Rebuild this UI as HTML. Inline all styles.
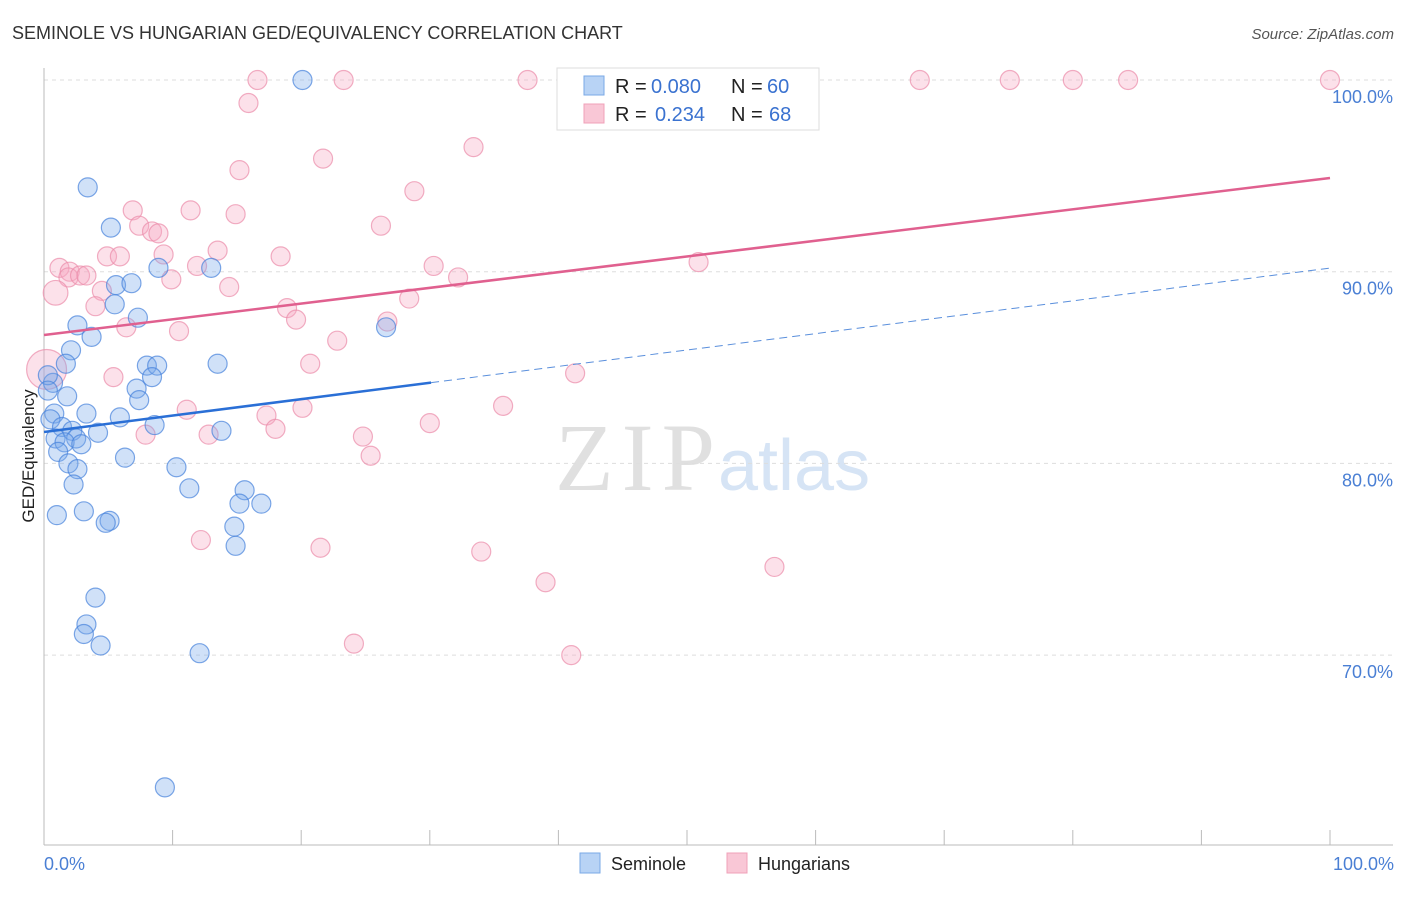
<!DOCTYPE html>
<html><head><meta charset="utf-8">
<style>
body{margin:0;background:#fff;font-family:"Liberation Sans",sans-serif;}
</style></head>
<body>
<svg id="chart" width="1406" height="892" viewBox="0 0 1406 892" xmlns="http://www.w3.org/2000/svg" font-family="Liberation Sans, sans-serif">
<text x="12" y="39" font-size="18" fill="#333">SEMINOLE VS HUNGARIAN GED/EQUIVALENCY CORRELATION CHART</text>
<text x="1394" y="39" font-size="15" fill="#555" font-style="italic" text-anchor="end">Source: ZipAtlas.com</text>
<text x="555" y="490" font-size="96" fill="#e0e0e0" style="font-family:'Liberation Serif',serif" textLength="160">ZIP</text>
<text x="718" y="490" font-size="72" fill="#d6e4f5">atlas</text>
<g id="grid"></g>
<g id="axes"></g>
<g id="points"></g>
<g id="trends"></g>
<text transform="translate(34,456) rotate(-90)" font-size="17" fill="#222" text-anchor="middle">GED/Equivalency</text>
<text x="44" y="870" font-size="18" fill="#4a7fd4">0.0%</text>
<text x="1394" y="870" font-size="18" fill="#4a7fd4" text-anchor="end">100.0%</text>
<g>
<rect x="557" y="68" width="262" height="62" fill="#fff" stroke="#ddd"/>
<rect x="584" y="76" width="20" height="19" fill="#b8d3f5" stroke="#7aa8e6"/>
<rect x="584" y="104" width="20" height="19" fill="#f9c7d6" stroke="#f0a0b8"/>
<g font-size="20">
<text x="615" y="93" fill="#222">R =</text><text x="651" y="93" fill="#3a72d0">0.080</text>
<text x="731" y="93" fill="#222">N =</text><text x="767" y="93" fill="#3a72d0">60</text>
</g>
<g font-size="20">
<text x="615" y="121" fill="#222">R =</text><text x="655" y="121" fill="#3a72d0">0.234</text>
<text x="731" y="121" fill="#222">N =</text><text x="769" y="121" fill="#3a72d0">68</text>
</g>
</g>
<g>
<rect x="580" y="853" width="20" height="20" fill="#b8d3f5" stroke="#7aa8e6"/>
<text x="611" y="870" font-size="18" fill="#222">Seminole</text>
<rect x="727" y="853" width="20" height="20" fill="#f9c7d6" stroke="#f0a0b8"/>
<text x="758" y="870" font-size="18" fill="#222">Hungarians</text>
</g>
</svg>
<script>
const yTicks=[100,90,80,70];
const yTickLabels=["100.0%","90.0%","80.0%","70.0%"];
const xTicks=[0,10,20,30,40,50,60,70,80,90,100];
const seminoleX=[20.1,3.4,5.2,8.9,13.0,5.6,6.8,5.5,7.3,2.6,3.7,2.1,1.7,8.0,8.8,13.5,8.4,0.7,0.3,0.3,7.2,7.4,1.8,0.8,3.3,5.9,0.5,1.4,8.6,13.8,0.9,2.2,2.5,4.2,1.6,2.9,1.1,6.3,1.9,2.6,10.3,2.3,11.3,15.6,15.2,16.9,1.0,3.1,5.1,4.8,14.8,14.9,26.6,4.0,3.3,3.1,4.4,12.1,9.4];
const seminoleY=[100,94.4,92.3,90.2,90.2,89.3,89.4,88.3,87.6,87.2,86.6,85.9,85.2,85.1,85.1,85.2,84.5,84.2,84.6,83.8,83.9,83.3,83.5,82.6,82.6,82.4,82.3,81.9,82.0,81.7,81.3,81.7,81.3,81.6,81.1,81.0,80.6,80.3,80.0,79.7,79.8,78.9,78.7,78.6,77.9,77.9,77.3,77.5,77.0,76.9,76.7,75.7,87.1,73.0,71.6,71.1,70.5,70.1,63.1];
const hungX=[16.6,23.3,37.6,53.8,68.1,75.1,80.0,84.3,100,15.9,21.7,33.4,15.2,28.8,6.9,11.4,14.9,7.4,8.4,8.9,26.2,4.9,5.9,9.3,13.5,18.4,1.2,2.0,1.9,2.8,3.3,11.9,9.9,30.3,32.2,50.9,0.9,4.5,14.4,4.0,28.4,18.9,19.6,6.4,10.5,22.8,26.7,20.7,41.3,5.4,0.2,11.1,17.3,20.1,35.7,30.0,18.0,7.9,12.8,24.8,25.4,12.2,21.5,34.0,39.0,56.8,24.1,41.0];
const hungY=[100,100,100,100,100,100,100,100,100,98.8,95.9,96.5,95.3,94.2,93.2,93.2,93.0,92.4,92.1,92.0,92.4,90.8,90.8,90.9,91.1,90.8,90.2,90.0,89.7,89.8,89.8,90.3,89.6,90.3,89.7,90.5,88.9,89.0,89.2,88.2,88.6,88.1,87.5,87.1,86.9,86.4,87.4,85.2,84.7,84.5,84.9,82.8,82.5,82.9,83.0,82.1,81.8,81.5,81.5,81.4,80.4,76.0,75.6,75.4,73.8,74.6,70.6,70.0];
const hungWeight=[1,1,1,1,1,1,1,1,1,1,1,1,1,1,1,1,1,1,1,1,1,1,1,1,1,1,1,1,1,1,1,1,1,1,1,1,1.3,1,1,1,1,1,1,1,1,1,1,1,1,1,2.1,1,1,1,1,1,1,1,1,1,1,1,1,1,1,1,1,1];
const seminoleTrend=[81.64,90.19];
const hungTrend=[86.70,94.89];
const seminoleSolidEnd=30.1;

const NS="http://www.w3.org/2000/svg";
const X0=44,X1=1330,Y100=80,PX10=19.17;
function sx(v){return X0+(X1-X0)*v/100;}
function sy(v){return Y100+(100-v)*PX10;}
function mk(tag,attrs,parent){const e=document.createElementNS(NS,tag);for(const k in attrs)e.setAttribute(k,attrs[k]);parent.appendChild(e);return e;}
const grid=document.getElementById('grid'),axes=document.getElementById('axes'),pts=document.getElementById('points'),tr=document.getElementById('trends');
yTicks.forEach((t,i)=>{
 const l=mk('line',{x1:44,x2:1393,y1:sy(t),y2:sy(t),stroke:'#ddd','stroke-dasharray':'4,4'},grid);
 
 
 const tx=mk('text',{x:1393,y:sy(t)+23,'font-size':18,fill:'#4a7fd4','text-anchor':'end'},grid);
 tx.textContent=yTickLabels[i];
 
 
});
const ya=mk('line',{x1:44,x2:44,y1:68,y2:845,stroke:'#bbb'},axes);


const xa=mk('line',{x1:44,x2:1393,y1:845,y2:845,stroke:'#bbb'},axes);


xTicks.forEach(t=>{
 const l=mk('line',{x1:sx(t),x2:sx(t),y1:830,y2:845,stroke:'#bbb'},axes);
 
 
});
hungX.forEach((v,i)=>{
 const c=mk('circle',{cx:sx(v),cy:sy(hungY[i]),r:9.5*hungWeight[i],fill:'rgba(246,170,195,0.35)',stroke:'rgba(235,140,170,0.7)','stroke-width':1.2},pts);
 
 
});
seminoleX.forEach((v,i)=>{
 const c=mk('circle',{cx:sx(v),cy:sy(seminoleY[i]),r:9.5,fill:'rgba(120,170,235,0.35)',stroke:'rgba(70,130,220,0.7)','stroke-width':1.2},pts);
 
 
});
function ty(tr2,x){return tr2[0]+(tr2[1]-tr2[0])*x/100;}
const pl=mk('line',{x1:sx(0),y1:sy(ty(hungTrend,0)),x2:sx(100),y2:sy(ty(hungTrend,100)),stroke:'#e0608f','stroke-width':2.5},tr);


const bl=mk('line',{x1:sx(0),y1:sy(ty(seminoleTrend,0)),x2:sx(seminoleSolidEnd),y2:sy(ty(seminoleTrend,seminoleSolidEnd)),stroke:'#2a6fd6','stroke-width':2.5},tr);


const bd=mk('line',{x1:sx(seminoleSolidEnd),y1:sy(ty(seminoleTrend,seminoleSolidEnd)),x2:sx(100),y2:sy(ty(seminoleTrend,100)),stroke:'#5a8fdc','stroke-width':1,'stroke-dasharray':'8,5'},tr);


</script>
</body></html>
